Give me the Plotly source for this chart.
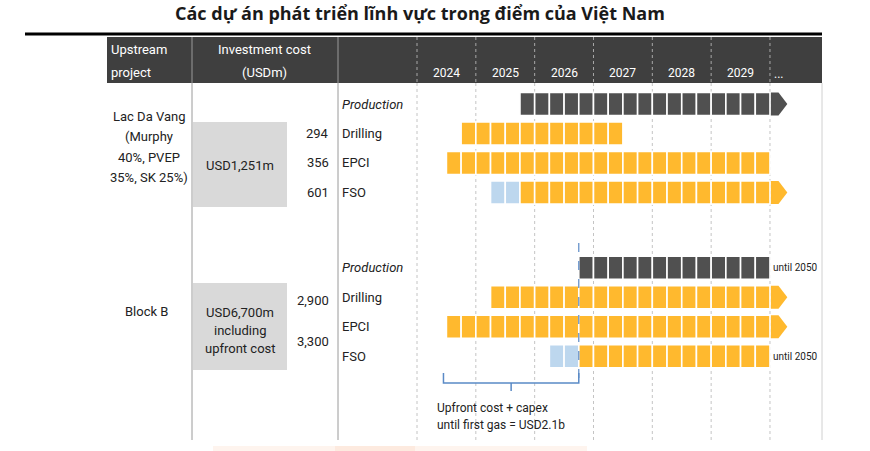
import plotly.graph_objects as go

# ---------------- data ----------------
title = "Các dự án phát triển lĩnh vực trong điểm của Việt Nam"
years = [2024, 2025, 2026, 2027, 2028, 2029]
year_labels = ["2024", "2025", "2026", "2027", "2028", "2029", "..."]
header_project = ["Upstream", "project"]
header_cost = ["Investment cost", "(USDm)"]
activities = ["Production", "Drilling", "EPCI", "FSO"]

ldv_name = ["Lac Da Vang", "(Murphy", "40%, PVEP", "35%, SK 25%)"]
ldv_total = ["USD1,251m"]
ldv_costs = ["", "294", "356", "601"]
ldv_prep_start = [None, None, None, 2025.25]
ldv_start = [2025.75, 2024.75, 2024.5, 2025.75]
ldv_end = [2030, 2027.5, 2030, 2030]
ldv_arrow = [True, False, False, True]
ldv_note = ["", "", "", ""]

bb_name = ["Block B"]
bb_total = ["USD6,700m", "including", "upfront cost"]
bb_costs = ["2,900", "3,300"]
bb_prep_start = [None, None, None, 2026.25]
bb_start = [2026.75, 2025.25, 2024.5, 2026.75]
bb_end = [2030, 2030, 2030, 2030]
bb_arrow = [False, True, True, False]
bb_note = ["until 2050", "", "", "until 2050"]

first_gas = 2026.75
bracket_start = 2024.45
bracket_note = ["Upfront cost + capex", "until first gas = USD2.1b"]

# ---------------- layout helpers ----------------
W, H = 870, 451
X_2024_PX = 417.0
PX_PER_YEAR = 58.83
ROW0_PX = 104.0
ROW_PX = 29.5
GROUP2_OFFSET = 5.55

x_range = [2024 - X_2024_PX / PX_PER_YEAR, 2024 + (W - X_2024_PX) / PX_PER_YEAR]
y_range = [(H - ROW0_PX) / ROW_PX, -ROW0_PX / ROW_PX]


def px(x):
    return x / W


def py(y):
    return 1 - y / H


def row_of(ypx):
    return (ypx - ROW0_PX) / ROW_PX


FONT = "Roboto"
ORANGE = "#FFB92E"
DARK = "#505050"
BLUE = "#BDD7EE"
HEADER = "#3F3F3F"
BAR_W = 0.78

fig = go.Figure()


def add_row(row, prep, start, end, arrow, dark):
    if prep is not None:
        q = []
        t = prep
        while t < start - 1e-9:
            q.append(t)
            t += 0.25
        fig.add_trace(go.Bar(orientation="h", y=[row] * len(q), x=[0.25] * len(q), base=q,
                             width=BAR_W, marker=dict(color=BLUE, line=dict(color="white", width=1.6)),
                             hoverinfo="skip", showlegend=False))
    q = []
    t = start
    while t < end - 1e-9:
        q.append(t)
        t += 0.25
    col = DARK if dark else ORANGE
    fig.add_trace(go.Bar(orientation="h", y=[row] * len(q), x=[0.25] * len(q), base=q,
                         width=BAR_W, marker=dict(color=col, line=dict(color="white", width=1.6)),
                         hoverinfo="skip", showlegend=False))
    if arrow:
        h = BAR_W / 2
        e = end + 0.015
        fig.add_trace(go.Scatter(x=[e, e + 0.13, e + 0.28, e + 0.13, e, e],
                                 y=[row - h, row - h, row, row + h, row + h, row - h],
                                 fill="toself", fillcolor=col, mode="lines",
                                 line=dict(width=0, color=col), hoverinfo="skip", showlegend=False))


for i in range(4):
    add_row(i, ldv_prep_start[i], ldv_start[i], ldv_end[i], ldv_arrow[i], i == 0)
    add_row(GROUP2_OFFSET + i, bb_prep_start[i], bb_start[i], bb_end[i], bb_arrow[i], i == 0)

# bracket
b_top, b_mid, b_tip = row_of(373), row_of(383), row_of(391)
b_c = (bracket_start + first_gas) / 2
fig.add_trace(go.Scatter(
    x=[bracket_start, bracket_start, b_c, b_c, b_c, first_gas, first_gas],
    y=[b_top, b_mid, b_mid, b_tip, b_mid, b_mid, b_top],
    mode="lines", line=dict(color="#5A8AC6", width=1.5), hoverinfo="skip", showlegend=False))

shapes = []
shapes.append(dict(type="line", xref="paper", yref="paper", x0=px(25), x1=px(822), y0=py(34), y1=py(34),
                   line=dict(color="black", width=3)))
shapes.append(dict(type="rect", xref="paper", yref="paper", x0=px(107), x1=px(822), y0=py(83), y1=py(37),
                   fillcolor=HEADER, line=dict(width=0), layer="below"))
for xp in [192, 338]:
    shapes.append(dict(type="line", xref="paper", yref="paper", x0=px(xp), x1=px(xp), y0=py(37), y1=py(83),
                       line=dict(color="#9A9A9A", width=1)))
    shapes.append(dict(type="line", xref="paper", yref="paper", x0=px(xp), x1=px(xp), y0=py(83), y1=py(440),
                       line=dict(color="#9A9A9A", width=1), layer="below"))
for yr in years + [years[-1] + 1]:
    shapes.append(dict(type="line", xref="x", yref="paper", x0=yr, x1=yr, y0=py(37), y1=py(83),
                       line=dict(color="#A8A8A8", width=1, dash="dot")))
    shapes.append(dict(type="line", xref="x", yref="paper", x0=yr, x1=yr, y0=py(83), y1=py(440),
                       line=dict(color="#C4C4C4", width=1, dash="dot"), layer="below"))
shapes.append(dict(type="line", xref="paper", yref="paper", x0=px(822), x1=px(822), y0=py(83), y1=py(440),
                   line=dict(color="#D0D0D0", width=1), layer="below"))
shapes.append(dict(type="rect", xref="paper", yref="paper", x0=px(193), x1=px(287), y0=py(207), y1=py(122),
                   fillcolor="#D9D9D9", line=dict(width=0), layer="below"))
shapes.append(dict(type="rect", xref="paper", yref="paper", x0=px(193), x1=px(287), y0=py(370), y1=py(283),
                   fillcolor="#D9D9D9", line=dict(width=0), layer="below"))
shapes.append(dict(type="line", xref="x", yref="paper", x0=first_gas, x1=first_gas, y0=py(243), y1=py(383),
                   line=dict(color="#5A8AC6", width=1.2, dash="dash")))
# faint strip at bottom edge (next image peeking in)
shapes.append(dict(type="rect", xref="paper", yref="paper", x0=px(213), x1=px(587), y0=py(451), y1=py(446),
                   fillcolor="#FEF4EE", line=dict(width=0), layer="below"))
shapes.append(dict(type="rect", xref="paper", yref="paper", x0=px(335), x1=px(415), y0=py(451), y1=py(446),
                   fillcolor="#FDEADF", line=dict(width=0), layer="below"))

ann = []


def txt(text, x, y, size=13, color="#222222", xanchor="center", italic=False, bold=False, xref="paper",
        family=FONT, yanchor="middle"):
    t = text
    if bold:
        t = "<b>" + t + "</b>"
    if italic:
        t = "<i>" + t + "</i>"
    ann.append(dict(text=t, x=x, y=py(y), xref=xref, yref="paper", showarrow=False,
                    xanchor=xanchor, yanchor=yanchor, borderpad=0,
                    font=dict(family=family, size=size, color=color)))


txt(title, px(420), 0, size=18, color="#1a1a1a", bold=True, family="Open Sans", yanchor="top")
for k, line in enumerate(header_project):
    txt(line, px(110), 50 + 22 * k, size=13, color="white", xanchor="left")
for k, line in enumerate(header_cost):
    txt(line, px(264), 50 + 22 * k, size=13, color="white")
for k, lab in enumerate(year_labels):
    if lab == "...":
        txt(lab, years[0] + k + 0.05, 74, size=12, color="white", xanchor="left", xref="x")
    else:
        txt(lab, years[0] + k + 0.5, 73, size=12, color="white", xref="x")

for k, line in enumerate(ldv_name):
    txt(line, px(149), 117 + 20 * k, size=13)
for k, line in enumerate(bb_name):
    txt(line, px(146), 311 + 20 * k, size=13)
for k, line in enumerate(ldv_total):
    txt(line, px(240), 165 + 18 * k, size=13)
for k, line in enumerate(bb_total):
    txt(line, px(240), 312 + 18 * k, size=13)
for i, c in enumerate(ldv_costs):
    if c:
        txt(c, px(330), ROW0_PX + ROW_PX * i, size=13, xanchor="right")
for c, ypos in zip(bb_costs, [300, 341]):
    txt(c, px(330), ypos, size=13, xanchor="right")
for g in [0, GROUP2_OFFSET]:
    for i, a in enumerate(activities):
        txt(a, px(341), ROW0_PX + ROW_PX * (g + i), size=13, xanchor="left", italic=(i == 0))
for i, n in enumerate(bb_note):
    if n:
        txt(n, px(772), ROW0_PX + ROW_PX * (GROUP2_OFFSET + i), size=10, xanchor="left")
for k, line in enumerate(bracket_note):
    txt(line, px(436), 408 + 17 * k, size=12, xanchor="left")

fig.update_layout(
    width=W, height=H, autosize=False,
    margin=dict(l=0, r=0, t=0, b=0),
    paper_bgcolor="white", plot_bgcolor="white",
    barmode="overlay", bargap=0,
    xaxis=dict(range=x_range, visible=False, fixedrange=True),
    yaxis=dict(range=y_range, visible=False, fixedrange=True),
    shapes=shapes, annotations=ann, showlegend=False,
)

fig.write_html("out.html", config={"displayModeBar": False, "staticPlot": True},
               post_script="document.body.style.margin='0';")
